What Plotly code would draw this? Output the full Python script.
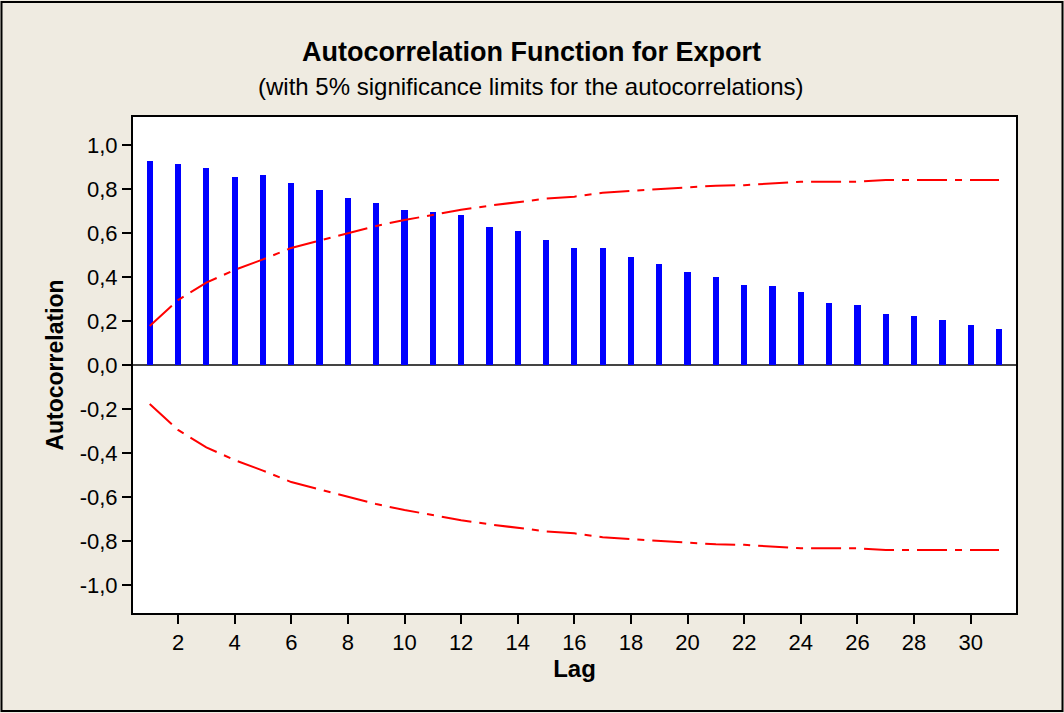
import plotly.graph_objects as go

lags = list(range(1, 32))
acf = [0.929, 0.912, 0.894, 0.853, 0.862, 0.827, 0.794, 0.759, 0.736, 0.703,
       0.694, 0.683, 0.626, 0.609, 0.567, 0.533, 0.533, 0.491, 0.458, 0.424,
       0.400, 0.364, 0.358, 0.330, 0.280, 0.273, 0.230, 0.221, 0.206, 0.180, 0.164]
upper_limit = [0.177, 0.295, 0.374, 0.432, 0.480, 0.532, 0.565, 0.598, 0.632, 0.659,
               0.682, 0.705, 0.724, 0.741, 0.756, 0.765, 0.783, 0.791, 0.800, 0.808,
               0.815, 0.817, 0.826, 0.833, 0.833, 0.833, 0.841, 0.841, 0.841, 0.841, 0.841]
lower_limit = [-v for v in upper_limit]
x_ticks = list(range(2, 31, 2))
y_ticks = [-1.0, -0.8, -0.6, -0.4, -0.2, 0.0, 0.2, 0.4, 0.6, 0.8, 1.0]
y_ticktext = [f"{v:.1f}".replace(".", ",") for v in y_ticks]

BG = "#EFEBE1"
FONT = "Liberation Sans, Arial, sans-serif"

fig = go.Figure()
fig.add_trace(go.Bar(x=lags, y=acf, width=0.22, marker=dict(color="#0000FF", line=dict(width=0)),
                     showlegend=False))
for lim in (upper_limit, lower_limit):
    fig.add_trace(go.Scatter(x=lags, y=lim, mode="lines",
                             line=dict(color="#FF0000", width=2, dash="30px,8px,7px,8px"),
                             showlegend=False))

fig.update_layout(
    width=1064, height=713,
    paper_bgcolor=BG, plot_bgcolor="white",
    margin=dict(l=133, r=48, t=117, b=100),
    font=dict(family=FONT, color="black", size=22),
    xaxis=dict(range=[0.41, 31.6], tickvals=x_ticks, ticks="outside", ticklen=9,
               tickcolor="black", tickwidth=1.5, showgrid=False, zeroline=False,
               showline=True, linecolor="black", linewidth=2, mirror=True,
               tickfont=dict(size=22),
               title=dict(text="<b>Lag</b>", font=dict(size=24), standoff=6)),
    yaxis=dict(range=[-1.127, 1.127], tickvals=y_ticks, ticktext=y_ticktext, ticks="outside",
               ticklen=9, tickcolor="black", tickwidth=1.5, showgrid=False,
               zeroline=True, zerolinecolor="#444444", zerolinewidth=2,
               showline=True, linecolor="black", linewidth=2, mirror=True,
               tickfont=dict(size=22),
               title=dict(text="<b>Autocorrelation</b>", font=dict(size=23), standoff=10)),
    bargap=0,
    annotations=[
        dict(text="<b>Autocorrelation Function for Export</b>", xref="paper", yref="paper",
             x=0.4513, y=(613 - 52) / 496, xanchor="center", yanchor="middle",
             showarrow=False, font=dict(size=27, family=FONT)),
        dict(text="(with 5% significance limits for the autocorrelations)", xref="paper",
             yref="paper", x=0.4513, y=(613 - 86) / 496, xanchor="center", yanchor="middle",
             showarrow=False, font=dict(size=24, family=FONT)),
    ],
    shapes=[dict(type="rect", xref="paper", yref="paper",
                 x0=(1.5 - 133) / 883, x1=(1062.5 - 133) / 883,
                 y0=(613 - 711) / 496, y1=(613 - 2) / 496,
                 line=dict(color="black", width=2), fillcolor="rgba(0,0,0,0)", layer="below")],
)

fig.write_html("out.html", config={"displayModeBar": False},
               post_script="document.body.style.margin='0';")
